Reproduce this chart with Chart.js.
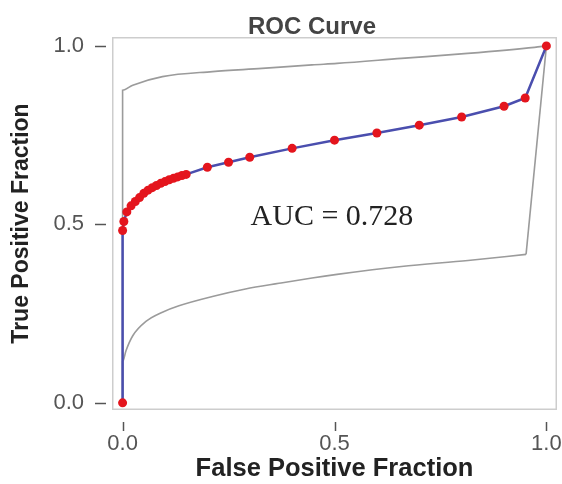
<!DOCTYPE html>
<html><head><meta charset="utf-8">
<script src="https://cdn.jsdelivr.net/npm/chart.js@4"></script>
<style>html,body{margin:0;padding:0;background:#fff}</style>
</head><body>
<canvas id="c" width="562" height="484" style="display:block;width:562px;height:484px"></canvas>
<script>
// ROC empirical points
const fpf = [0, 0, 0.003, 0.01, 0.02, 0.03, 0.04, 0.05, 0.06, 0.07, 0.08, 0.09, 0.10, 0.11, 0.12, 0.13, 0.14, 0.15, 0.20, 0.25, 0.30, 0.40, 0.50, 0.60, 0.70, 0.80, 0.90, 0.95, 1.0];
const tpf = [0, 0.483, 0.508, 0.535, 0.552, 0.564, 0.575, 0.587, 0.596, 0.603, 0.609, 0.615, 0.620, 0.625, 0.629, 0.633, 0.637, 0.640, 0.660, 0.674, 0.688, 0.713, 0.736, 0.756, 0.778, 0.801, 0.831, 0.854, 1.0];
// upper confidence band
const upperFpf = [0, 0, 0.024, 0.094, 0.212, 0.329, 0.447, 0.506, 0.658, 0.814, 0.972, 1.0];
const upperTpf = [0, 0.876, 0.890, 0.914, 0.928, 0.937, 0.947, 0.951, 0.965, 0.979, 0.996, 1.0];
// lower confidence band
const lowerFpf = [0, 0, 0.008, 0.024, 0.055, 0.094, 0.133, 0.212, 0.29, 0.369, 0.447, 0.506, 0.658, 0.815, 0.952];
const lowerTpf = [0, 0.115, 0.146, 0.188, 0.228, 0.254, 0.272, 0.298, 0.319, 0.335, 0.350, 0.360, 0.382, 0.399, 0.416];
const lowerEndFpf = [0.952, 1.0];
const lowerEndTpf = [0.416, 1.0];
// axes
const tickValues = [0, 0.5, 1.0];
const tickLabels = ['0.0', '0.5', '1.0'];
const chartTitle = 'ROC Curve';
const xTitle = 'False Positive Fraction';
const yTitle = 'True Positive Fraction';
const aucText = 'AUC = 0.728';
const aucAt = [0.494, 0.497];

const SANS = '"Liberation Sans", Arial, sans-serif';
const pts = (xs, ys) => xs.map((x, i) => ({x: x, y: ys[i]}));

const decor = {
  id: 'decor',
  beforeDatasetsDraw(chart) {
    const {ctx, chartArea: a} = chart;
    ctx.save();
    ctx.strokeStyle = '#cdcdcd';
    ctx.lineWidth = 1.5;
    ctx.strokeRect(a.left + 0.75, a.top + 0.75, a.right - a.left - 1.5, a.bottom - a.top - 1.5);
    ctx.restore();
  },
  afterDraw(chart) {
    const {ctx, chartArea: a, scales: {x, y}} = chart;
    ctx.save();
    ctx.strokeStyle = '#555';
    ctx.lineWidth = 1.5;
    tickValues.forEach(v => {
      const py = Math.round(y.getPixelForValue(v)) + 0.5;
      ctx.beginPath(); ctx.moveTo(a.left - 17, py); ctx.lineTo(a.left - 6, py); ctx.stroke();
      const px = Math.round(x.getPixelForValue(v)) + 0.5;
      ctx.beginPath(); ctx.moveTo(px, a.bottom + 12); ctx.lineTo(px, a.bottom + 21); ctx.stroke();
    });
    ctx.fillStyle = '#444';
    ctx.font = 'bold 24px ' + SANS;
    ctx.textAlign = 'center';
    ctx.textBaseline = 'alphabetic';
    ctx.fillText(chartTitle, 312, 34);
    ctx.fillStyle = '#222';
    ctx.font = '30px "Liberation Serif", "Times New Roman", serif';
    ctx.fillText(aucText, x.getPixelForValue(aucAt[0]), y.getPixelForValue(aucAt[1]));
    ctx.restore();
  }
};

new Chart(document.getElementById('c'), {
  type: 'scatter',
  data: {
    datasets: [
      {
        data: pts(fpf, tpf), showLine: true, tension: 0,
        borderColor: '#4a4eae', borderWidth: 2.5,
        pointRadius: 4.5, pointBackgroundColor: '#e4151d', pointBorderWidth: 0
      },
      {
        data: pts(upperFpf, upperTpf), showLine: true, cubicInterpolationMode: 'monotone',
        borderColor: '#9b9b9b', borderWidth: 1.6, pointRadius: 0
      },
      {
        data: pts(lowerFpf, lowerTpf), showLine: true, cubicInterpolationMode: 'monotone',
        borderColor: '#9b9b9b', borderWidth: 1.6, pointRadius: 0
      },
      {
        data: pts(lowerEndFpf, lowerEndTpf), showLine: true, tension: 0,
        borderColor: '#9b9b9b', borderWidth: 1.6, pointRadius: 0
      }
    ]
  },
  options: {
    responsive: false, animation: false, devicePixelRatio: 1,
    layout: {padding: {top: 37, right: 5, left: 0, bottom: 0}},
    plugins: {legend: {display: false}, tooltip: {enabled: false}, title: {display: false}},
    scales: {
      x: {
        type: 'linear', min: -0.025, max: 1.025,
        afterFit(s) { s.height = 74; s.paddingLeft = 0; s.paddingRight = 0; },
        afterBuildTicks(s) { s.ticks = tickValues.map(v => ({value: v})); },
        grid: {display: false, drawTicks: false}, border: {display: false},
        ticks: {padding: 21, color: '#555', font: {family: SANS, size: 22},
          maxRotation: 0, autoSkip: false,
          callback: (v) => tickLabels[tickValues.indexOf(v)]},
        title: {display: true, text: xTitle, color: '#222',
          font: {family: SANS, size: 25.5, weight: 'bold'}, padding: {top: 0, bottom: 0}}
      },
      y: {
        type: 'linear', min: -0.02, max: 1.025,
        afterFit(s) { s.width = 112; s.paddingTop = 0; s.paddingBottom = 0; },
        afterBuildTicks(s) { s.ticks = tickValues.map(v => ({value: v})); },
        grid: {display: false, drawTicks: false}, border: {display: false},
        ticks: {padding: 28, color: '#555', font: {family: SANS, size: 22}, autoSkip: false,
          callback: (v) => tickLabels[tickValues.indexOf(v)]},
        title: {display: true, text: yTitle, color: '#222',
          font: {family: SANS, size: 23, weight: 'bold'}, padding: {top: 8, bottom: 0}}
      }
    }
  },
  plugins: [decor]
});
</script>
</body></html>
